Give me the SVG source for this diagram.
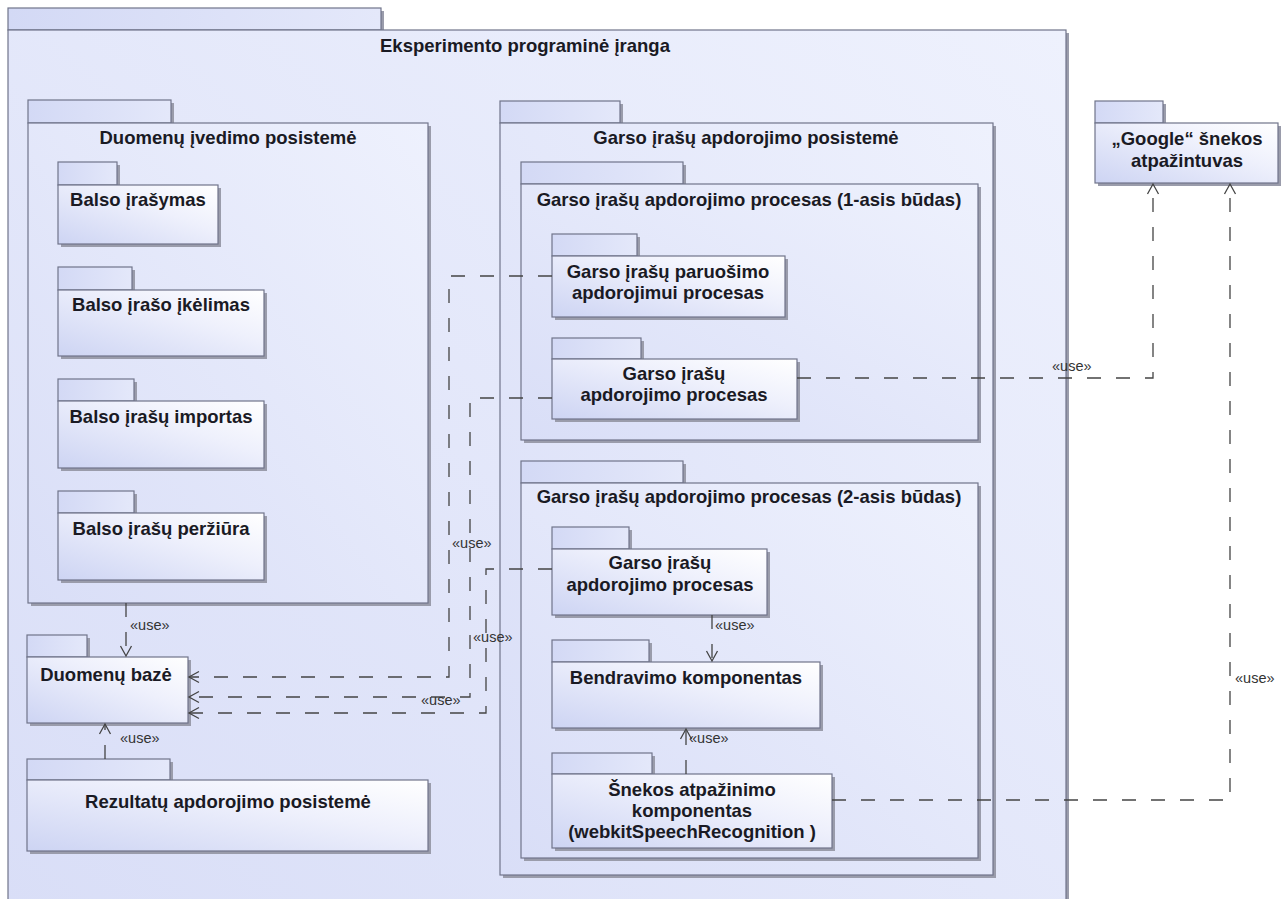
<svg xmlns="http://www.w3.org/2000/svg" width="1283" height="899" viewBox="0 0 1283 899">
  <defs>
    <linearGradient id="gBig" x1="0" y1="1" x2="1" y2="0">
      <stop offset="0" stop-color="#d9def7"/>
      <stop offset="1" stop-color="#eef1fd"/>
    </linearGradient>
    <linearGradient id="gNode" x1="0" y1="1" x2="1" y2="0">
      <stop offset="0" stop-color="#cdd4f3"/>
      <stop offset="0.6" stop-color="#eef0fc"/>
      <stop offset="1" stop-color="#ffffff"/>
    </linearGradient>
    <linearGradient id="gTab" x1="0" y1="0" x2="1" y2="0">
      <stop offset="0" stop-color="#d3d9f5"/>
      <stop offset="1" stop-color="#e4e8fa"/>
    </linearGradient>
    <marker id="open" markerUnits="userSpaceOnUse" markerWidth="14" markerHeight="14" viewBox="-12 -7 14 14" refX="0" refY="0" orient="auto">
      <path d="M-10,-5.5 L0,0 L-10,5.5" fill="none" stroke="#444" stroke-width="1.3"/>
    </marker>
    <style>
      .sh { fill: #9a9cab; }
      .tab { fill: url(#gTab); stroke: #70748a; stroke-width: 1.2; }
      .big { fill: url(#gBig); stroke: #70748a; stroke-width: 1.2; }
      .node { fill: url(#gNode); stroke: #70748a; stroke-width: 1.2; }
      .t { font-family: "Liberation Sans", Arial, sans-serif; font-size: 18.5px; font-weight: bold; fill: #1a1a24; text-anchor: middle; }
      .dep { fill: none; stroke: #444; stroke-width: 1.3; stroke-dasharray: 14 15; marker-end: url(#open); }
      .lbl { font-family: "Liberation Sans", Arial, sans-serif; font-size: 14.5px; fill: #333; }
    </style>
  </defs>

  <rect width="1283" height="899" fill="#ffffff"/>

  <!-- outer package -->
  <g id="eksperimento">
    <rect class="sh" x="11" y="11" width="373" height="22"/>
    <rect class="sh" x="11" y="33" width="1058" height="880"/>
    <rect class="tab" x="8" y="8" width="373" height="22"/>
    <rect class="big" x="8" y="30" width="1058" height="880"/>
    <text class="t" x="525" y="52">Eksperimento programinė įranga</text>
  </g>

  <!-- data input subsystem -->
  <g id="duomenu-ivedimo">
    <rect class="sh" x="31" y="103" width="143" height="23"/>
    <rect class="sh" x="31" y="126" width="400" height="480"/>
    <rect class="tab" x="28" y="100" width="143" height="23"/>
    <rect class="big" x="28" y="123" width="400" height="480"/>
    <text class="t" x="228" y="144">Duomenų įvedimo posistemė</text>
  </g>

  <g id="balso-irasymas">
    <rect class="sh" x="61" y="165" width="59" height="23"/>
    <rect class="sh" x="61" y="188" width="160" height="59"/>
    <rect class="tab" x="58" y="162" width="59" height="23"/>
    <rect class="node" x="58" y="185" width="160" height="59"/>
    <text class="t" x="138" y="206">Balso įrašymas</text>
  </g>

  <g id="balso-iraso-ikelimas">
    <rect class="sh" x="61" y="270" width="74" height="23"/>
    <rect class="sh" x="61" y="293" width="206" height="66"/>
    <rect class="tab" x="58" y="267" width="74" height="23"/>
    <rect class="node" x="58" y="290" width="206" height="66"/>
    <text class="t" x="161" y="311">Balso įrašo įkėlimas</text>
  </g>

  <g id="balso-irasu-importas">
    <rect class="sh" x="61" y="382" width="76" height="22"/>
    <rect class="sh" x="61" y="404" width="206" height="67"/>
    <rect class="tab" x="58" y="379" width="76" height="22"/>
    <rect class="node" x="58" y="401" width="206" height="67"/>
    <text class="t" x="161" y="423">Balso įrašų importas</text>
  </g>

  <g id="balso-irasu-perziura">
    <rect class="sh" x="61" y="494" width="76" height="22"/>
    <rect class="sh" x="61" y="516" width="206" height="67"/>
    <rect class="tab" x="58" y="491" width="76" height="22"/>
    <rect class="node" x="58" y="513" width="206" height="67"/>
    <text class="t" x="161" y="535">Balso įrašų peržiūra</text>
  </g>

  <!-- database -->
  <g id="duomenu-baze">
    <rect class="sh" x="30" y="638" width="60" height="22"/>
    <rect class="sh" x="30" y="660" width="161" height="66"/>
    <rect class="tab" x="27" y="635" width="60" height="22"/>
    <rect class="node" x="27" y="657" width="161" height="66"/>
    <text class="t" x="106" y="681">Duomenų bazė</text>
  </g>

  <!-- results subsystem -->
  <g id="rezultatu-apdorojimo">
    <rect class="sh" x="30" y="762" width="143" height="21"/>
    <rect class="sh" x="30" y="783" width="401" height="71"/>
    <rect class="tab" x="27" y="759" width="143" height="21"/>
    <rect class="node" x="27" y="780" width="401" height="71"/>
    <text class="t" x="228" y="808">Rezultatų apdorojimo posistemė</text>
  </g>

  <!-- audio processing subsystem -->
  <g id="garso-posisteme">
    <rect class="sh" x="503" y="104" width="120" height="22"/>
    <rect class="sh" x="503" y="126" width="493" height="752"/>
    <rect class="tab" x="500" y="101" width="120" height="22"/>
    <rect class="big" x="500" y="123" width="493" height="752"/>
    <text class="t" x="746" y="144">Garso įrašų apdorojimo posistemė</text>
  </g>

  <g id="procesas-1">
    <rect class="sh" x="524" y="165" width="162" height="22"/>
    <rect class="sh" x="524" y="187" width="457" height="256"/>
    <rect class="tab" x="521" y="162" width="162" height="22"/>
    <rect class="big" x="521" y="184" width="457" height="256"/>
    <text class="t" x="749" y="206">Garso įrašų apdorojimo procesas (1-asis būdas)</text>
  </g>

  <g id="paruosimo-procesas">
    <rect class="sh" x="555" y="237" width="85" height="22"/>
    <rect class="sh" x="555" y="259" width="233" height="61"/>
    <rect class="tab" x="552" y="234" width="85" height="22"/>
    <rect class="node" x="552" y="256" width="233" height="61"/>
    <text class="t" x="668" y="278">Garso įrašų paruošimo</text>
    <text class="t" x="668" y="299">apdorojimui procesas</text>
  </g>

  <g id="apdorojimo-procesas-1">
    <rect class="sh" x="555" y="341" width="89" height="21"/>
    <rect class="sh" x="555" y="362" width="245" height="60"/>
    <rect class="tab" x="552" y="338" width="89" height="21"/>
    <rect class="node" x="552" y="359" width="245" height="60"/>
    <text class="t" x="674" y="380">Garso įrašų</text>
    <text class="t" x="674" y="401">apdorojimo procesas</text>
  </g>

  <g id="procesas-2">
    <rect class="sh" x="524" y="464" width="162" height="22"/>
    <rect class="sh" x="524" y="486" width="457" height="375"/>
    <rect class="tab" x="521" y="461" width="162" height="22"/>
    <rect class="big" x="521" y="483" width="457" height="375"/>
    <text class="t" x="749" y="503">Garso įrašų apdorojimo procesas (2-asis būdas)</text>
  </g>

  <g id="apdorojimo-procesas-2">
    <rect class="sh" x="555" y="530" width="77" height="22"/>
    <rect class="sh" x="555" y="552" width="215" height="66"/>
    <rect class="tab" x="552" y="527" width="77" height="22"/>
    <rect class="node" x="552" y="549" width="215" height="66"/>
    <text class="t" x="660" y="569">Garso įrašų</text>
    <text class="t" x="660" y="591">apdorojimo procesas</text>
  </g>

  <g id="bendravimo-komponentas">
    <rect class="sh" x="555" y="643" width="97" height="22"/>
    <rect class="sh" x="555" y="665" width="268" height="66"/>
    <rect class="tab" x="552" y="640" width="97" height="22"/>
    <rect class="node" x="552" y="662" width="268" height="66"/>
    <text class="t" x="686" y="684">Bendravimo komponentas</text>
  </g>

  <g id="snekos-atpazinimo-komponentas">
    <rect class="sh" x="555" y="756" width="100" height="21"/>
    <rect class="sh" x="555" y="777" width="280" height="74"/>
    <rect class="tab" x="552" y="753" width="100" height="21"/>
    <rect class="node" x="552" y="774" width="280" height="74"/>
    <text class="t" x="692" y="796">Šnekos atpažinimo</text>
    <text class="t" x="692" y="817">komponentas</text>
    <text class="t" x="692" y="838">(webkitSpeechRecognition )</text>
  </g>

  <!-- external recognizer -->
  <g id="google-atpazintuvas">
    <rect class="sh" x="1098" y="104" width="68" height="22"/>
    <rect class="sh" x="1098" y="126" width="183" height="60"/>
    <rect class="tab" x="1095" y="101" width="68" height="22"/>
    <rect class="node" x="1095" y="123" width="183" height="60"/>
    <text class="t" x="1187" y="145">„Google“ šnekos</text>
    <text class="t" x="1187" y="167">atpažintuvas</text>
  </g>

  <!-- «use» dependencies -->
  <g id="connectors">
    <path class="dep" d="M126,603 V656"/>
    <path class="dep" d="M105,759 V724"/>
    <path class="dep" d="M552,276 H449 V677 H189"/>
    <path class="dep" d="M552,398 H470 V697 H189"/>
    <path class="dep" d="M552,569 H486 V713 H189"/>
    <path class="dep" d="M712,615 V661"/>
    <path class="dep" d="M686,774 V729"/>
    <path class="dep" d="M797,378 H1153 V184"/>
    <path class="dep" d="M832,800 H1230 V184"/>
    <text class="lbl" x="130" y="630">«use»</text>
    <text class="lbl" x="120" y="743">«use»</text>
    <text class="lbl" x="452" y="548">«use»</text>
    <text class="lbl" x="473" y="642">«use»</text>
    <text class="lbl" x="421" y="705">«use»</text>
    <text class="lbl" x="715" y="630">«use»</text>
    <text class="lbl" x="689" y="743">«use»</text>
    <text class="lbl" x="1052" y="371">«use»</text>
    <text class="lbl" x="1235" y="683">«use»</text>
  </g>
</svg>
